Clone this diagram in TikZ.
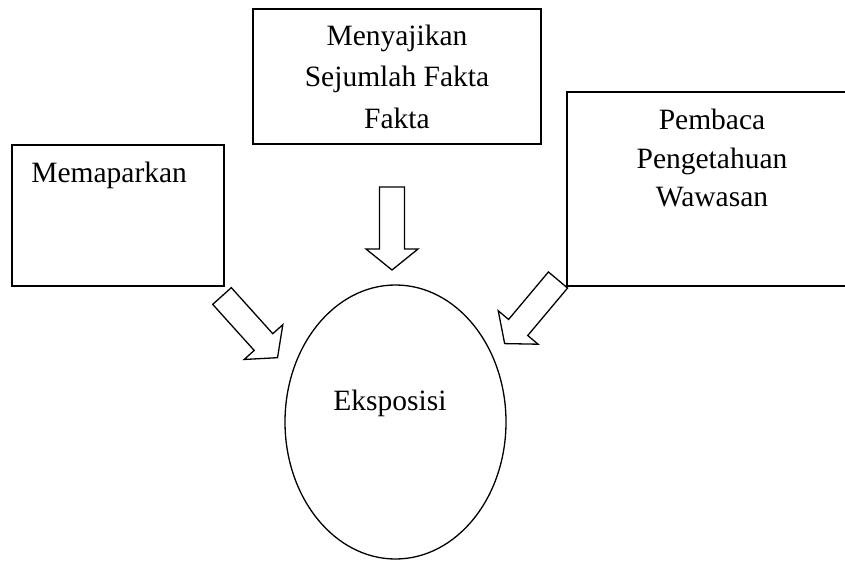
\documentclass[tikz,border=0pt]{standalone}
\usepackage{fontspec}
\setmainfont{Liberation Serif}
\usetikzlibrary{
  positioning,
  shapes.geometric
}

\tikzset{
  blockarrow/.pic={
    \draw[arrowline] (0,-12.5) -- (62,-12.5) -- (62,-26) -- (83,0)
      -- (62,26) -- (62,12.5) -- (0,12.5) -- cycle;
  }
}

\begin{document}
\begin{tikzpicture}[
  x=1pt, y=-1pt,
  box/.style={draw, line width=1.8pt, inner sep=0pt},
  arrowline/.style={line width=1.3pt, line join=miter},
  txt/.style={inner sep=0pt, font=\fontsize{29.5}{41.5}\selectfont}
]
  \useasboundingbox (0,0) rectangle (845,561);

  % boxes
  \node[box, txt, align=center, minimum width=288pt, minimum height=135pt] (sajikan) at (397,76.5)
    {Menyajikan\\Sejumlah Fakta\\Fakta};
  \node[box, minimum width=212pt, minimum height=141pt] (papar) at (118,215.5) {};
  \node[box, minimum width=290pt, minimum height=194pt] (baca) at (712,189) {};

  \node[txt, below right=18pt and 20pt of papar.north west] (paparteks) {Memaparkan};
  \node[txt, font=\fontsize{29.5}{38.5}\selectfont, align=center, below=18pt of baca.north] (bacateks)
    {Pembaca\\Pengetahuan\\Wawasan};

  % ellipse
  \node[draw, ellipse, line width=1.3pt, minimum width=221pt, minimum height=274pt] (eks) at (395.5,422) {};
  \node[txt, anchor=base] (eksteks) at (390,410) {Eksposisi};

  % block arrows
  \pic[rotate=-90] (turun) at (392,187) {blockarrow};
  \pic[rotate=-48] (kiri) at (222,296) {blockarrow};
  \pic[rotate=-130] (kanan) at (558,280) {blockarrow};
\end{tikzpicture}
\end{document}
